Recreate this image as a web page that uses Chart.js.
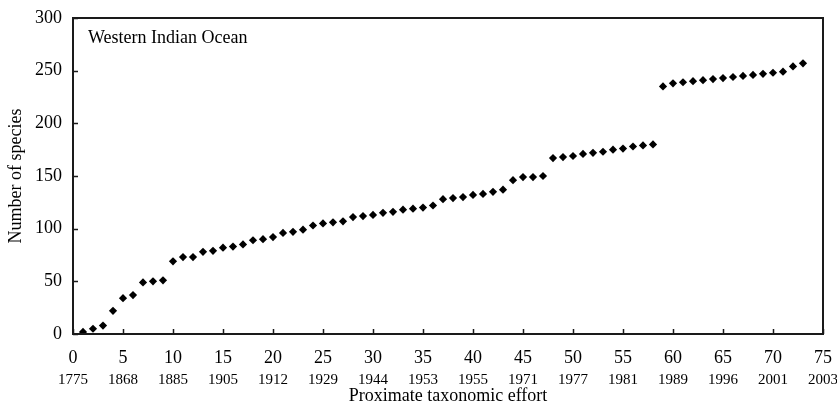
<!DOCTYPE html>
<html>
<head>
<meta charset="utf-8">
<script src="https://cdn.jsdelivr.net/npm/chart.js@4/dist/chart.umd.min.js"></script>
<style>
  html, body { margin: 0; padding: 0; background: #fff; }
  #wrap { width: 837px; height: 407px; }
</style>
</head>
<body>
<div id="wrap"><canvas id="c"></canvas></div>
<script>
// Cumulative species count against proximate taxonomic effort (one step per study)
const effortSteps = [
   1,  2,  3,  4,  5,  6,  7,  8,  9, 10, 11, 12, 13, 14, 15, 16, 17, 18, 19, 20,
  21, 22, 23, 24, 25, 26, 27, 28, 29, 30, 31, 32, 33, 34, 35, 36, 37, 38, 39, 40,
  41, 42, 43, 44, 45, 46, 47, 48, 49, 50, 51, 52, 53, 54, 55, 56, 57, 58, 59, 60,
  61, 62, 63, 64, 65, 66, 67, 68, 69, 70, 71, 72, 73
];
const speciesCount = [
    2,   5,   8,  22,  34,  37,  49,  50,  51,  69,  73,  73,  78,  79,  82,  83,  85,  89,  90,  92,
   96,  97,  99, 103, 105, 106, 107, 111, 112, 113, 115, 116, 118, 119, 120, 122, 128, 129, 130, 132,
  133, 135, 137, 146, 149, 149, 150, 167, 168, 169, 171, 172, 173, 175, 176, 178, 179, 180, 235, 238,
  239, 240, 241, 242, 243, 244, 245, 246, 247, 248, 249, 254, 257
];
// Tick positions on the effort axis and the year reached at each
const effortTicks = [0, 5, 10, 15, 20, 25, 30, 35, 40, 45, 50, 55, 60, 65, 70, 75];
const yearLabels = ['1775', '1868', '1885', '1905', '1912', '1929', '1944', '1953',
                    '1955', '1971', '1977', '1981', '1989', '1996', '2001', '2003'];
const speciesTicks = [0, 50, 100, 150, 200, 250, 300];

const SERIF = '"Liberation Serif", "Times New Roman", serif';
const INK = '#000';
const FRAME = '#1a1a1a';

// Boxed frame, inward tick marks and the region caption
const framePlugin = {
  id: 'frame',
  afterDraw(chart) {
    const { ctx, chartArea: a, scales } = chart;
    ctx.save();
    ctx.strokeStyle = FRAME;
    ctx.lineWidth = 1.5;
    ctx.beginPath();
    effortTicks.forEach(v => {
      const px = Math.round(scales.x.getPixelForValue(v)) + 0.5;
      ctx.moveTo(px, a.bottom);
      ctx.lineTo(px, a.bottom - 5);
    });
    speciesTicks.forEach(v => {
      const py = Math.round(scales.y.getPixelForValue(v)) + 0.5;
      ctx.moveTo(a.left, py);
      ctx.lineTo(a.left + 5, py);
    });
    ctx.stroke();
    ctx.lineWidth = 2;
    ctx.strokeRect(a.left, a.top, a.right - a.left, a.bottom - a.top);
    ctx.fillStyle = INK;
    ctx.font = '18px ' + SERIF;
    ctx.textBaseline = 'alphabetic';
    ctx.textAlign = 'left';
    ctx.fillText('Western Indian Ocean', a.left + 15, a.top + 25);
    ctx.restore();
  }
};

const noGrid = { display: false, drawTicks: false };

new Chart(document.getElementById('c'), {
  type: 'scatter',
  data: {
    datasets: [{
      data: effortSteps.map((x, i) => ({ x: x, y: speciesCount[i] })),
      pointStyle: 'rectRot',
      pointRadius: 4.1,
      pointBorderWidth: 0,
      backgroundColor: INK,
      borderColor: INK,
      showLine: false
    }]
  },
  options: {
    responsive: true,
    maintainAspectRatio: false,
    animation: false,
    layout: { padding: { left: 0, right: 14, top: 18, bottom: 0 } },
    plugins: { legend: { display: false }, tooltip: { enabled: false } },
    scales: {
      x: {
        type: 'linear', position: 'bottom', min: 0, max: 75,
        grid: noGrid, border: { display: false },
        ticks: { stepSize: 5, autoSkip: false, maxRotation: 0, color: INK, padding: 13,
                 font: { family: SERIF, size: 18 } },
        afterFit(s) { s.height = 34; s.paddingLeft = 0; s.paddingRight = 0; }
      },
      years: {
        type: 'linear', position: 'bottom', min: 0, max: 75,
        grid: noGrid, border: { display: false },
        ticks: { stepSize: 5, autoSkip: false, maxRotation: 0, color: INK, padding: 3.5,
                 font: { family: SERIF, size: 15 },
                 callback: v => yearLabels[effortTicks.indexOf(v)] },
        title: { display: true, text: 'Proximate taxonomic effort', color: INK,
                 font: { family: SERIF, size: 18 }, padding: { top: 0, bottom: 0 } },
        afterFit(s) { s.height = 39; s.paddingLeft = 0; s.paddingRight = 0; }
      },
      y: {
        type: 'linear', min: 0, max: 300,
        grid: noGrid, border: { display: false },
        ticks: { stepSize: 50, color: INK, padding: 11, font: { family: SERIF, size: 18 } },
        title: { display: true, text: 'Number of species', color: INK,
                 font: { family: SERIF, size: 18 }, padding: { top: 5, bottom: 0 } },
        afterFit(s) { s.width = 73; s.paddingTop = 0; s.paddingBottom = 0; }
      }
    }
  },
  plugins: [framePlugin]
});
</script>
</body>
</html>
